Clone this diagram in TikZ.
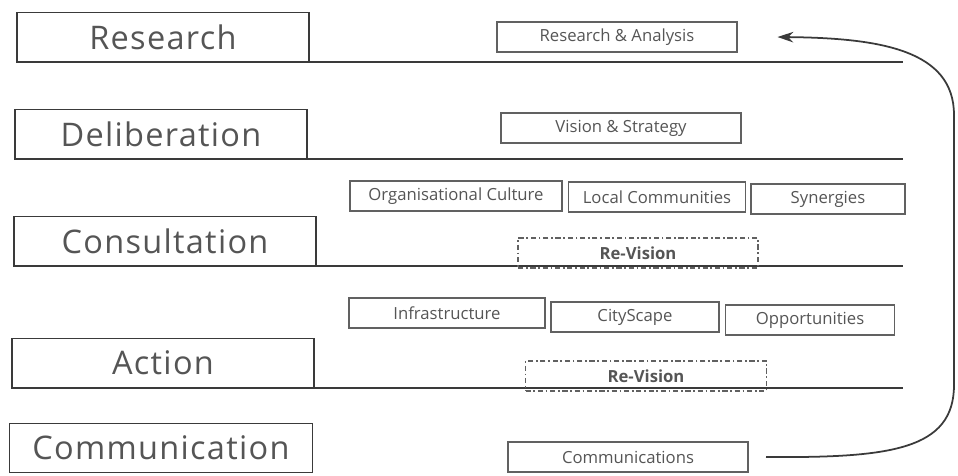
\documentclass[tikz,border=0pt]{standalone}
\usepackage{fontspec}
\setmainfont{Open Sans}
\usetikzlibrary{arrows.meta}

\definecolor{ink}{HTML}{3A3A3A}
\definecolor{txt}{HTML}{555555}

\tikzset{
  stage/.style={draw=ink, line width=0.9pt, inner sep=0pt, minimum height=0.98cm,
    text=txt, font=\fontsize{18.5}{22}\selectfont\addfontfeature{LetterSpace=4}},
  task/.style={draw=ink!80, line width=0.6pt, inner sep=0pt, minimum height=0.6cm,
    text=txt, font=\fontsize{9.5}{11}\selectfont},
  revision/.style={task, dash pattern=on 3pt off 1.5pt on 1pt off 1.5pt,
    font=\bfseries\fontsize{9.5}{11}\selectfont},
  rule/.style={draw=ink, line width=1pt},
}

\begin{document}
\begin{tikzpicture}[x=0.02cm, y=-0.02cm]

\useasboundingbox (0,0) rectangle (958,476);

% stages
\node[stage, minimum width=5.84cm] (research)   at (163, 37)  {Research};
\node[stage, minimum width=5.84cm] (deliber)    at (161, 134) {Deliberation};
\node[stage, minimum width=6.04cm] (consult)    at (165, 241) {Consultation};
\node[stage, minimum width=6.04cm] (action)     at (163, 363) {Action};
\node[stage, minimum width=6.06cm] (communic)   at (161, 448) {Communication};

% separators
\coordinate (rend) at (903, 0);
\draw[rule] (research.south west) -- (research.south west -| rend);
\draw[rule] (deliber.south west)  -- (deliber.south west -| rend);
\draw[rule] (consult.south west)  -- (consult.south west -| rend);
\draw[rule] (action.south west)   -- (action.south west -| rend);

% tasks
\node[task, minimum width=4.8cm] (analysis) at (617, 37)  {Research \& Analysis};
\node[task, minimum width=4.8cm] (vision)   at (621, 128) {Vision \& Strategy};

\node[task, minimum width=4.24cm] (culture)  at (456, 196) {Organisational Culture};
\node[task, minimum width=3.54cm] (local)    at (657, 197) {Local Communities};
\node[task, minimum width=3.08cm] (synergy)  at (828, 199) {Synergies};
\node[revision, minimum width=4.8cm] (revone) at (638, 253) {Re-Vision};

\node[task, minimum width=3.92cm] (infra)    at (447, 313) {Infrastructure};
\node[task, minimum width=3.36cm] (city)     at (635, 317) {CityScape};
\node[task, minimum width=3.38cm] (opport)   at (810, 320) {Opportunities};
\node[revision, minimum width=4.82cm] (revtwo) at (646, 376) {Re-Vision};

\node[task, minimum width=4.8cm] (comms)    at (628, 457) {Communications};

% feedback loop
\coordinate (loopbot) at (954, 385);
\coordinate (looptop) at (954, 115);
\draw[ink, line width=1pt, -{Stealth[length=9pt,width=6pt]}]
  ([xshift=0.35cm]comms.east) .. controls (890, 458) and (954, 450) .. (loopbot)
  -- (looptop) .. controls (954, 50) and (880, 38) .. ([xshift=0.8cm]analysis.east);

\end{tikzpicture}
\end{document}
